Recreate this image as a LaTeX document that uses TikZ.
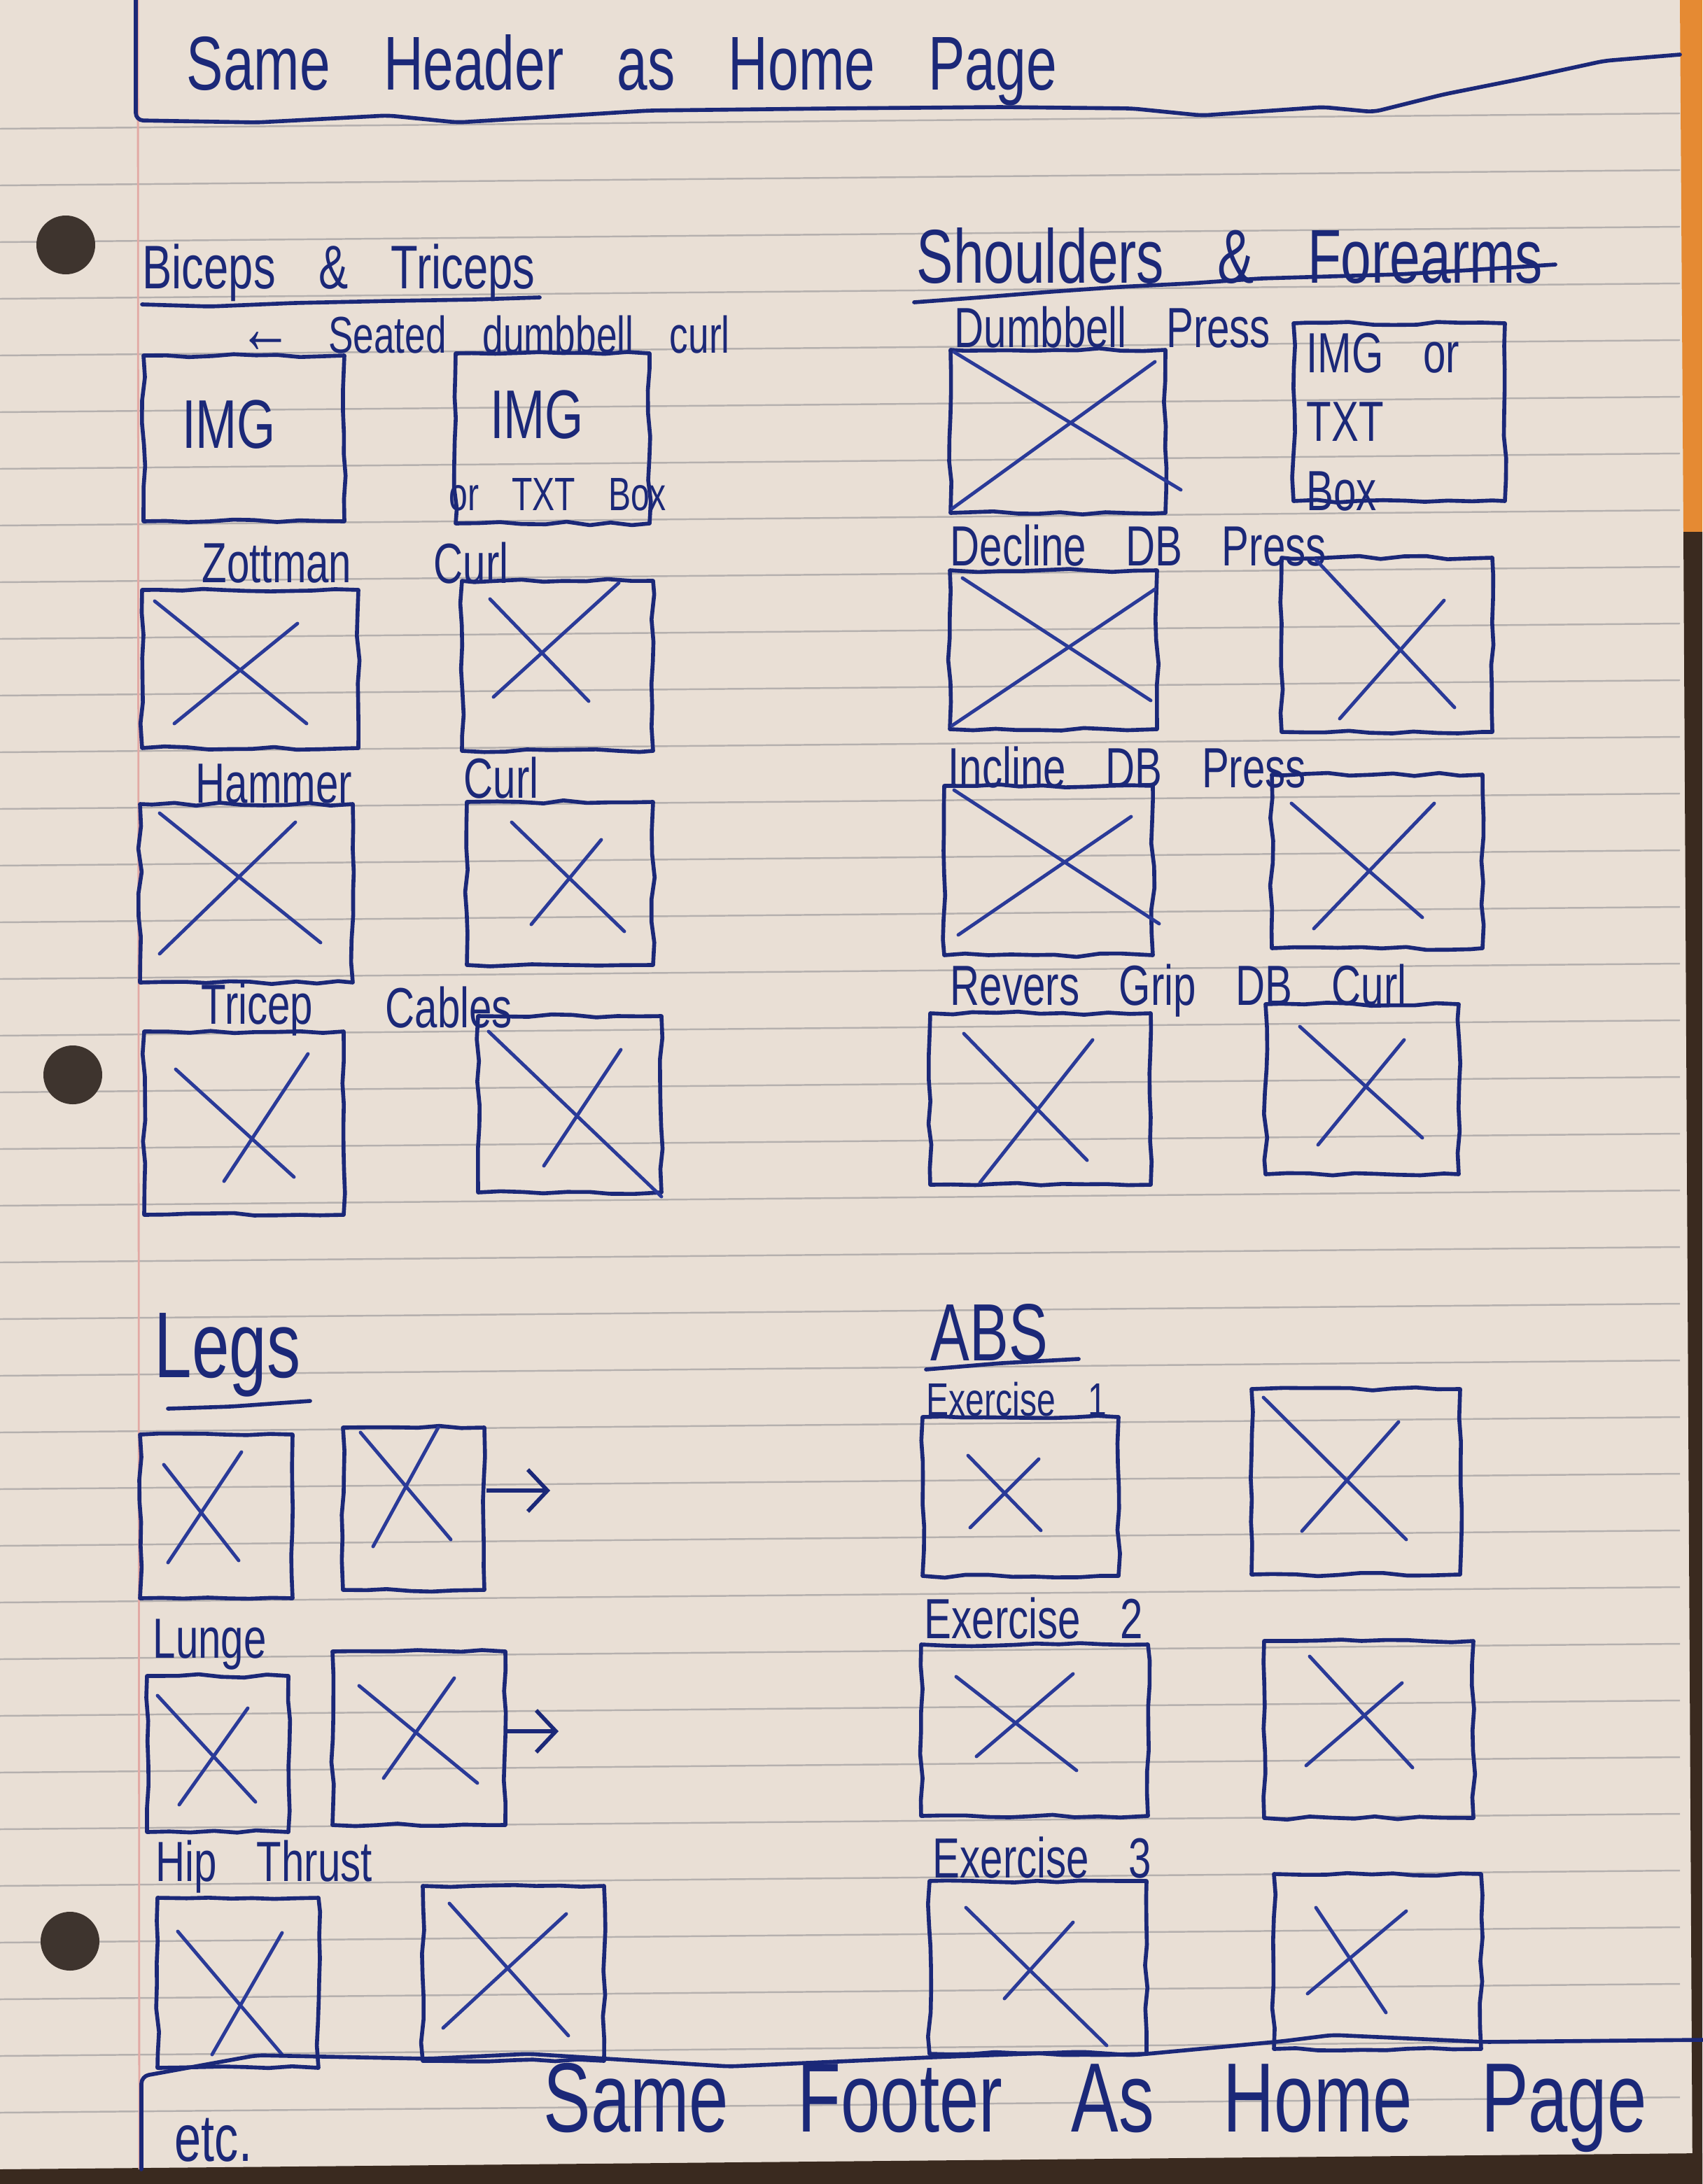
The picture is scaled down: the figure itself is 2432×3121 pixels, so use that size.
\documentclass[tikz,border=0pt]{standalone}
\usepackage{fontspec}
\newfontfamily\handfont[FakeStretch=0.72,WordSpace=3.5]{Liberation Sans}
\usepackage{xcolor}
\definecolor{paperTone}{HTML}{E9DFD5}
\definecolor{ruleGray}{HTML}{B5B0AE}
\definecolor{marginRed}{HTML}{E2A9A4}
\definecolor{inkBlue}{HTML}{1B2878}
\definecolor{inkMid}{HTML}{2A3A98}
\definecolor{woodTone}{HTML}{3A2A1F}
\definecolor{clothTone}{HTML}{E58A33}
\definecolor{holeTone}{HTML}{3E342E}
\usetikzlibrary{arrows.meta,fit,decorations.pathmorphing,calc}
\tikzset{
    ruleline/.style={draw=ruleGray, line width=0.7pt},
    inkline/.style={
        draw=inkBlue,
        line width=1.6pt,
        line join=round,
        line cap=round,
        rounded corners=3pt
    },
    sketchbox/.style={
        draw=inkBlue,
        rectangle,
        inner sep=0pt,
        line width=1.6pt,
        line join=round,
        decorate,
        decoration={random steps, segment length=9pt, amplitude=0.7pt}
    },
    xmark/.style={draw=inkMid, line width=1.4pt, line cap=round},
    inkarrow/.style={
        draw=inkBlue,
        line width=1.6pt,
        -{Straight Barb[length=8pt,width=17pt]}
    },
    hand/.style={text=inkBlue, inner sep=0pt, anchor=west},
    label/.style={hand, font=\handfont\fontsize{23}{27}\selectfont},
    boxtext/.style={text=inkBlue, inner sep=0pt, font=\handfont\fontsize{28}{30}\selectfont},
    heading/.style={hand, font=\handfont\fontsize{25}{29}\selectfont},
    pagetext/.style={hand, font=\handfont\fontsize{31}{35}\selectfont}
}
\pgfmathsetseed{7}
\begin{document}
\begin{tikzpicture}[x=0.01cm, y=-0.01cm]
    \useasboundingbox (0,0) rectangle (2432,3121);
    % paper and table
    \fill[paperTone] (0,0) rectangle (2432,3121);
    \fill[clothTone] (2400,0) -- (2432,0) -- (2432,760) -- (2405,760) -- cycle;
    \fill[woodTone] (2405,760) -- (2432,760) -- (2432,3121) -- (2418,3121) -- cycle;
    \fill[woodTone] (0,3100) -- (2432,3077) -- (2432,3121) -- (0,3121) -- cycle;
    \foreach \k in {0,...,35}
        \draw[ruleline] (0,{184+81*\k}) -- (2400,{162+81*\k});
    \draw[draw=marginRed, line width=0.8pt] (197,0) -- (199,3100);
    \foreach \hx/\hy in {94/350,104/1536,100/2774}
        \fill[holeTone] (\hx,\hy) circle[radius=42];

    % Header
    \draw[inkline] (194,0) -- (194,172) -- (367,175) -- (554,165) -- (654,175) -- (927,158)
        -- (1186,155) -- (1430,153) -- (1617,155) -- (1717,165) -- (1890,153) -- (1962,160)
        -- (2062,135) -- (2177,112) -- (2292,87) -- (2400,78);
    \node[pagetext] (header) at (266,100) {Same Header as Home Page};

    % Biceps & Triceps
    \node[heading] (bicHead) at (203,390) {Biceps \& Triceps};
    \draw[inkline] (203,435) -- (300,438) -- (420,433) -- (560,430) -- (680,428) -- (771,425);
    \node[label, font=\handfont\fontsize{21}{25}\selectfont] (seated) at (341,478) {{\fontsize{30}{30}\selectfont ←} Seated dumbbell curl};
    \node[sketchbox, fit={(205,508) (492,745)}] (bicA) {};
    \node[sketchbox, fit={(651,505) (928,748)}] (bicB) {};
    \node[boxtext] (bicAtxt) at (327,607) {IMG};
    \node[boxtext] (bicBtxt) at (767,593) {IMG};
    \node[label, anchor=center, font=\handfont\fontsize{19}{23}\selectfont] (bicBsub) at (797,707) {or TXT Box};

    \node[label] (zotL) at (288,805) {Zottman};
    \node[label] (zotR) at (619,805) {Curl};
    \node[sketchbox, fit={(203,843) (512,1069)}] (zotA) {};
    \node[sketchbox, fit={(660,830) (933,1073)}] (zotB) {};

    \node[label] (hamL) at (279,1120) {Hammer};
    \node[label] (hamR) at (662,1112) {Curl};
    \node[sketchbox, fit={(200,1149) (504,1404)}] (hamA) {};
    \node[sketchbox, fit={(667,1146) (933,1379)}] (hamB) {};

    \node[label] (triL) at (287,1443) {Tricep};
    \node[label] (triR) at (550,1440) {Cables};
    \node[sketchbox, fit={(206,1474) (491,1736)}] (triA) {};
    \node[sketchbox, fit={(683,1452) (945,1704)}] (triB) {};

    % Shoulders & Forearms
    \node[heading, font=\handfont\fontsize{31}{35}\selectfont] (shoHead) at (1309,366) {Shoulders \& Forearms};
    \draw[inkline] (1306,432) -- (1400,425) -- (1500,417) -- (1600,410) -- (1700,405)
        -- (1800,398) -- (1900,395) -- (2000,392) -- (2100,386) -- (2222,378);
    \node[label] (dbpLbl) at (1363,468) {Dumbbell Press};
    \node[sketchbox, fit={(1358,500) (1665,733)}] (dbpA) {};
    \node[sketchbox, fit={(1848,462) (2150,716)}] (dbpB) {};
    \node[label, align=left, font=\handfont\fontsize{23}{28}\selectfont] (dbpBtxt) at (1866,603) {IMG or\\TXT\\Box};

    \node[label] (decLbl) at (1357,780) {Decline DB Press};
    \node[sketchbox, fit={(1357,815) (1653,1042)}] (decA) {};
    \node[sketchbox, fit={(1831,797) (2132,1046)}] (decB) {};

    \node[label] (incLbl) at (1354,1097) {Incline DB Press};
    \node[sketchbox, fit={(1349,1123) (1647,1365)}] (incA) {};
    \node[sketchbox, fit={(1817,1107) (2118,1355)}] (incB) {};

    \node[label] (revLbl) at (1357,1416) {Revers Grip DB Curl};
    \node[sketchbox, fit={(1329,1448) (1644,1693)}] (revA) {};
    \node[sketchbox, fit={(1808,1435) (2084,1678)}] (revB) {};

    % Legs
    \node[heading, font=\handfont\fontsize{38}{42}\selectfont] (legHead) at (220,1936) {Legs};
    \draw[inkline] (240,2013) -- (330,2010) -- (443,2002);
    \node[sketchbox, fit={(200,2050) (418,2284)}] (legA) {};
    \node[sketchbox, fit={(490,2040) (692,2272)}] (legB) {};
    \coordinate (legNext) at (786,2130);
    \draw[inkarrow] (legB.east |- legNext) -- (legNext);

    \node[label] (lunLbl) at (218,2350) {Lunge};
    \node[sketchbox, fit={(210,2395) (412,2618)}] (lunA) {};
    \node[sketchbox, fit={(475,2360) (722,2608)}] (lunB) {};
    \coordinate (lunNext) at (798,2474);
    \draw[inkarrow] (lunB.east |- lunNext) -- (lunNext);

    \node[label] (hipLbl) at (222,2668) {Hip Thrust};
    \node[sketchbox, fit={(225,2712) (455,2955)}] (hipA) {};
    \node[sketchbox, fit={(604,2695) (863,2945)}] (hipB) {};

    % ABS
    \node[heading, font=\handfont\fontsize{33}{37}\selectfont] (absHead) at (1329,1905) {ABS};
    \draw[inkline] (1323,1957) -- (1430,1948) -- (1541,1942);
    \node[label, font=\handfont\fontsize{19}{23}\selectfont] (ex1Lbl) at (1323,2000) {Exercise 1};
    \node[sketchbox, fit={(1318,2025) (1598,2252)}] (absA) {};
    \node[sketchbox, fit={(1788,1985) (2086,2250)}] (absB) {};

    \node[label] (ex2Lbl) at (1320,2313) {Exercise 2};
    \node[sketchbox, fit={(1316,2350) (1640,2595)}] (exbA) {};
    \node[sketchbox, fit={(1806,2345) (2105,2598)}] (exbB) {};

    \node[label] (ex3Lbl) at (1332,2655) {Exercise 3};
    \node[sketchbox, fit={(1328,2688) (1638,2935)}] (excA) {};
    \node[sketchbox, fit={(1820,2678) (2116,2928)}] (excB) {};

    % crossed image placeholders
    \draw[xmark] (221,859) -- (438,1034) (425,891) -- (249,1034);
    \draw[xmark] (700,856) -- (841,1002) (884,833) -- (705,996);
    \draw[xmark] (228,1162) -- (458,1347) (422,1175) -- (228,1363);
    \draw[xmark] (731,1175) -- (892,1331) (859,1200) -- (759,1321);
    \draw[xmark] (251,1528) -- (420,1682) (440,1506) -- (320,1688);
    \draw[xmark] (698,1474) -- (945,1710) (887,1500) -- (777,1666);
    \draw[xmark] (1363,503) -- (1687,700) (1650,517) -- (1360,727);
    \draw[xmark] (1375,826) -- (1644,1001) (1650,842) -- (1360,1037);
    \draw[xmark] (1880,800) -- (2078,1011) (2063,858) -- (1914,1027);
    \draw[xmark] (1363,1129) -- (1656,1320) (1616,1167) -- (1369,1336);
    \draw[xmark] (1845,1148) -- (2032,1311) (2049,1148) -- (1877,1327);
    \draw[xmark] (1377,1477) -- (1553,1658) (1561,1486) -- (1400,1690);
    \draw[xmark] (1857,1467) -- (2032,1626) (2006,1486) -- (1883,1636);
    \draw[xmark] (234,2093) -- (341,2230) (345,2075) -- (240,2233);
    \draw[xmark] (515,2047) -- (644,2200) (626,2040) -- (533,2210);
    \draw[xmark] (225,2423) -- (365,2575) (354,2441) -- (256,2579);
    \draw[xmark] (513,2409) -- (682,2548) (649,2398) -- (548,2541);
    \draw[xmark] (254,2760) -- (403,2936) (403,2762) -- (303,2936);
    \draw[xmark] (642,2720) -- (812,2909) (809,2735) -- (633,2898);
    \draw[xmark] (1383,2080) -- (1487,2187) (1484,2085) -- (1386,2183);
    \draw[xmark] (1805,1997) -- (2009,2200) (1998,2032) -- (1860,2188);
    \draw[xmark] (1366,2396) -- (1538,2530) (1533,2392) -- (1395,2510);
    \draw[xmark] (1871,2367) -- (2018,2526) (2003,2405) -- (1866,2523);
    \draw[xmark] (1380,2726) -- (1581,2923) (1533,2747) -- (1435,2856);
    \draw[xmark] (1880,2726) -- (1980,2876) (2009,2731) -- (1868,2849);

    % Footer
    \draw[inkline] (202,3100) -- (202,2967) -- (367,2937) -- (611,2942) -- (755,2935) -- (1042,2953)
        -- (1329,2940) -- (1545,2932) -- (1617,2937) -- (1832,2917) -- (1904,2908)
        -- (2120,2918) -- (2432,2915);
    \node[hand, anchor=center, font=\handfont\fontsize{27}{30}\selectfont] (etc) at (305,3058) {etc.};
    \node[hand, font=\handfont\fontsize{40}{44}\selectfont] (footer) at (776,3012) {Same Footer As Home Page};
\end{tikzpicture}
\end{document}
